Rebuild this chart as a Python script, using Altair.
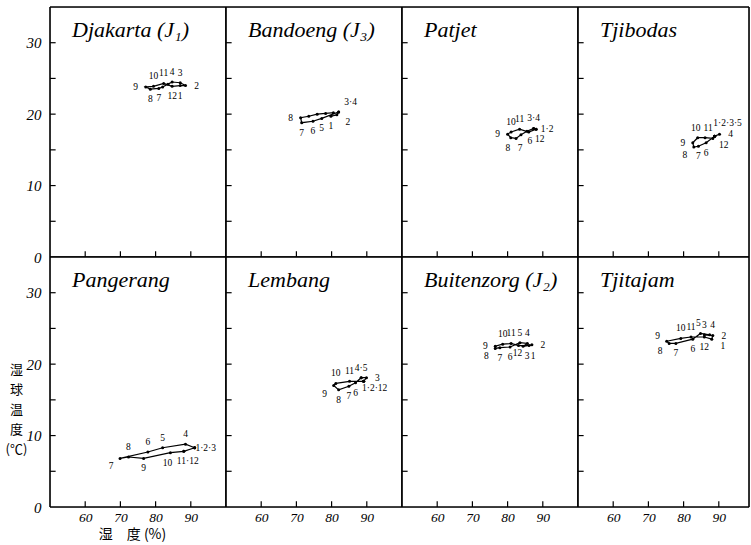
import altair as alt
import pandas as pd

months = list(range(1, 13))

stations = ["Djakarta (J₁)", "Bandoeng (J₃)", "Patjet", "Tjibodas",
            "Pangerang", "Lembang", "Buitenzorg (J₂)", "Tjitajam"]

# relative humidity (%) and wet-bulb temperature (°C), months 1..12
djakarta_rh = [87.0, 88.5, 87.0, 84.7, 83.5, 82.0, 80.9, 78.5, 77.2, 79.4, 82.3, 84.7]
djakarta_wb = [24.0, 24.0, 24.4, 24.5, 24.2, 23.8, 23.6, 23.5, 23.8, 23.9, 24.3, 23.9]

bandoeng_rh = [79.8, 81.5, 82.0, 82.0, 77.2, 74.7, 71.5, 71.2, 73.5, 75.9, 78.3, 80.5]
bandoeng_wb = [19.7, 19.9, 20.3, 20.3, 19.4, 19.0, 18.8, 19.5, 19.7, 20.0, 20.1, 20.2]

patjet_rh = [88.1, 88.1, 87.4, 87.4, 85.5, 83.8, 82.4, 80.9, 80.0, 81.0, 83.4, 86.0]
patjet_wb = [17.9, 17.9, 18.0, 18.0, 17.6, 17.1, 16.6, 16.7, 17.2, 17.5, 17.9, 17.5]

tjibodas_rh = [88.8, 88.8, 88.8, 90.2, 88.8, 86.4, 84.2, 82.9, 82.6, 84.0, 86.1, 88.3]
tjibodas_wb = [16.9, 16.9, 16.9, 17.2, 16.9, 16.0, 15.5, 15.4, 16.0, 16.7, 16.7, 16.6]

pangerang_rh = [91.1, 91.1, 91.1, 88.5, 82.0, 77.8, 69.9, 72.3, 76.6, 84.2, 88.0, 88.0]
pangerang_wb = [8.3, 8.3, 8.3, 8.8, 8.3, 7.7, 6.8, 7.0, 6.8, 7.6, 7.8, 7.8]

lembang_rh = [89.1, 89.1, 89.9, 88.4, 88.4, 86.8, 84.9, 82.0, 80.6, 81.2, 85.1, 89.1]
lembang_wb = [17.6, 17.6, 18.1, 18.1, 18.1, 17.4, 16.9, 16.4, 17.0, 17.3, 17.6, 17.6]

buitenzorg_rh = [86.1, 86.9, 84.4, 85.6, 83.5, 80.7, 77.8, 76.5, 76.5, 78.6, 81.0, 83.1]
buitenzorg_wb = [22.6, 22.7, 22.5, 22.9, 23.0, 22.4, 22.3, 22.2, 22.5, 22.8, 22.9, 22.6]

tjitajam_rh = [88.0, 88.3, 85.9, 87.4, 84.8, 82.6, 77.8, 75.9, 75.2, 79.2, 82.1, 85.9]
tjitajam_wb = [23.5, 24.0, 24.1, 24.1, 24.3, 23.5, 22.9, 22.9, 23.2, 23.6, 23.8, 23.8]

# month labels: (text, month it belongs to, side of the point)
djakarta_labels = [("10", 10, "N"), ("11", 11, "N"), ("4", 4, "N"), ("3", 3, "N"),
                   ("9", 9, "W"), ("2", 2, "E"), ("8", 8, "S"), ("7", 7, "S"),
                   ("12", 12, "S"), ("1", 1, "S")]
bandoeng_labels = [("8", 8, "W"), ("7", 7, "S"), ("6", 6, "S"), ("5", 5, "S"),
                   ("1", 1, "S"), ("2", 2, "SE"), ("3·4", 3, "NE")]
patjet_labels = [("10", 10, "N"), ("11", 11, "N"), ("3·4", 3, "N"), ("1·2", 1, "E"),
                 ("12", 12, "SE"), ("6", 6, "ESE"), ("7", 7, "Sr"), ("8", 8, "Sl"),
                 ("9", 9, "W")]
tjibodas_labels = [("10", 10, "Nl"), ("11", 11, "Nr"), ("1·2·3·5", 1, "NNE"), ("4", 4, "E"),
                   ("12", 12, "SE"), ("6", 6, "S"), ("7", 7, "S"), ("8", 8, "SW"), ("9", 9, "W")]
pangerang_labels = [("1·2·3", 1, "E"), ("4", 4, "N"), ("5", 5, "N"), ("6", 6, "N"),
                    ("8", 8, "N"), ("7", 7, "SW"), ("9", 9, "S"), ("10", 10, "Sl"),
                    ("11·12", 11, "Sr")]
lembang_labels = [("10", 10, "N"), ("11", 11, "N"), ("4·5", 4, "N"), ("3", 3, "E"),
                  ("1·2·12", 1, "SE"), ("6", 6, "S"), ("7", 7, "S"), ("8", 8, "S"),
                  ("9", 9, "SW")]
buitenzorg_labels = [("9", 9, "W"), ("8", 8, "SW"), ("7", 7, "S"), ("6", 6, "S"),
                     ("12", 12, "Su"), ("3", 3, "Sr"), ("1", 1, "Sr"), ("2", 2, "E"),
                     ("4", 4, "N"), ("5", 5, "N"), ("10", 10, "N"), ("11", 11, "N")]
tjitajam_labels = [("9", 9, "NW"), ("8", 8, "SW"), ("7", 7, "S"), ("6", 6, "S"),
                   ("12", 12, "S"), ("1", 1, "SE"), ("2", 2, "E"), ("4", 4, "Nr"),
                   ("3", 3, "N"), ("5", 5, "Nl"), ("10", 10, "N"), ("11", 11, "N")]

y_ticks = [5, 10, 15, 20, 25, 30]
y_labels = [0, 10, 20, 30]
x_ticks = [60, 70, 80, 90]

rh_lists = [djakarta_rh, bandoeng_rh, patjet_rh, tjibodas_rh,
            pangerang_rh, lembang_rh, buitenzorg_rh, tjitajam_rh]
wb_lists = [djakarta_wb, bandoeng_wb, patjet_wb, tjibodas_wb,
            pangerang_wb, lembang_wb, buitenzorg_wb, tjitajam_wb]
label_lists = [djakarta_labels, bandoeng_labels, patjet_labels, tjibodas_labels,
               pangerang_labels, lembang_labels, buitenzorg_labels, tjitajam_labels]

W, H = 176, 250
W_LAST = 171
PX_PER_PCT = W / 50.0
YD = [0, 35]
SIDE = {"N": (0, -10), "Nl": (-2, -10), "Nr": (3, -10), "S": (0, 10),
        "Sl": (-3, 10), "Sr": (4, 10), "Su": (-1, 7), "E": (11, 0), "W": (-10, 0),
        "NE": (12, -10), "NNE": (13, -13), "SE": (11, 7), "ESE": (9, 6),
        "SW": (-9, 8), "NW": (-9, -5)}

LABEL_FONT = "Liberation Serif"
CJK = "Noto Sans CJK JP"


def panel(i):
    col, row = i % 4, i // 4
    rh, wb, labs = rh_lists[i], wb_lists[i], label_lists[i]
    w = W_LAST if col == 3 else W
    XD = [50, 50 + w / PX_PER_PCT]

    loop = pd.DataFrame({"seq": list(range(13)),
                         "rh": rh + [rh[0]], "wb": wb + [wb[0]]})
    pts = pd.DataFrame({"rh": rh, "wb": wb, "m": months})
    lab_rows = []
    for text, m, side in labs:
        dx, dy = SIDE[side]
        lab_rows.append({"txt": text,
                         "rh": rh[m - 1] + dx / PX_PER_PCT,
                         "wb": wb[m - 1] - dy * (YD[1] - YD[0]) / H})
    labdf = pd.DataFrame(lab_rows)

    xs = alt.Scale(domain=XD, nice=False, zero=False)
    ys = alt.Scale(domain=YD, nice=False, zero=False)

    if row == 1:
        xkw = dict(values=x_ticks, ticks=False, domain=False, grid=False,
                   labelPadding=3, labelFont=LABEL_FONT, labelFontSize=13.5,
                   labelFontStyle="italic", labelColor="black")
        if col == 0:
            xaxis = alt.Axis(title="湿　度 (%)", titleFont=CJK, titleFontSize=14,
                             titleFontWeight="normal", titlePadding=4,
                             titleX=82, titleColor="black", **xkw)
        else:
            xaxis = alt.Axis(title=None, **xkw)
    else:
        xaxis = None

    if col == 0:
        ykw = dict(values=y_labels, ticks=False, domain=False, grid=False,
                   labelPadding=9, labelFont=LABEL_FONT, labelFontSize=15,
                   labelFontStyle="italic", labelColor="black")
        if row == 1:
            yaxis = alt.Axis(title=["湿", "球", "温", "度", "(℃)"], titleAngle=0,
                             titleX=-34, titleY=106, titleAlign="center",
                             titleBaseline="top", titleLineHeight=20,
                             titleFont=CJK, titleFontSize=13,
                             titleFontWeight="normal", titleColor="black", **ykw)
        else:
            yaxis = alt.Axis(title=None, **ykw)
    else:
        yaxis = None

    def X(field):
        return alt.X(field, type="quantitative", scale=xs, axis=xaxis)

    def Y(field):
        return alt.Y(field, type="quantitative", scale=ys, axis=yaxis)

    line = alt.Chart(loop).mark_line(color="black", strokeWidth=1.2).encode(
        x=X("rh"), y=Y("wb"), order="seq:Q")
    dots = alt.Chart(pts).mark_circle(color="black", size=9, opacity=1).encode(
        x=X("rh"), y=Y("wb"))
    texts = alt.Chart(labdf).mark_text(font=LABEL_FONT, fontSize=9.5, color="black",
                                       baseline="middle", align="center").encode(
        x=X("rh"), y=Y("wb"), text="txt:N")

    ytk = alt.Chart(pd.DataFrame({"t": y_ticks})).mark_rule(
        color="black", strokeWidth=1.2).encode(
        x=alt.X(datum=XD[0], scale=xs, axis=xaxis),
        x2=alt.datum(XD[0] + 1.6),
        y=Y("t"))
    xtk = alt.Chart(pd.DataFrame({"t": x_ticks})).mark_rule(
        color="black", strokeWidth=1.2).encode(
        x=X("t"),
        y=alt.Y(datum=YD[0], scale=ys, axis=yaxis),
        y2=alt.datum(YD[0] + 0.8))

    # panel frame drawn as rules along the scale limits
    vframe = alt.Chart(pd.DataFrame({"b": XD})).mark_rule(
        color="black", strokeWidth=1.6).encode(
        x=X("b"), y=alt.Y(datum=YD[0], scale=ys, axis=yaxis), y2=alt.datum(YD[1]))
    hframe = alt.Chart(pd.DataFrame({"b": YD})).mark_rule(
        color="black", strokeWidth=1.6).encode(
        y=Y("b"), x=alt.X(datum=XD[0], scale=xs, axis=xaxis), x2=alt.datum(XD[1]))

    title = alt.Chart(pd.DataFrame({"name": [stations[i]]})).mark_text(
        align="left", baseline="alphabetic", font=LABEL_FONT, fontSize=22,
        fontStyle="italic", color="black").encode(
        text="name:N", x=alt.value(22), y=alt.value(30))

    return alt.layer(ytk, xtk, line, dots, texts, title, vframe, hframe).properties(
        width=w, height=H)


panels = [panel(i) for i in range(8)]

chart = alt.concat(*panels, columns=4, spacing=0, bounds="flush", align="each").properties(
    padding={"left": 4, "top": 5, "right": 0, "bottom": 0}
).configure_view(stroke="black", strokeWidth=1.2, fill="transparent").configure(
    background="white")

chart.save("out.html", embed_options={"renderer": "svg", "actions": False})
